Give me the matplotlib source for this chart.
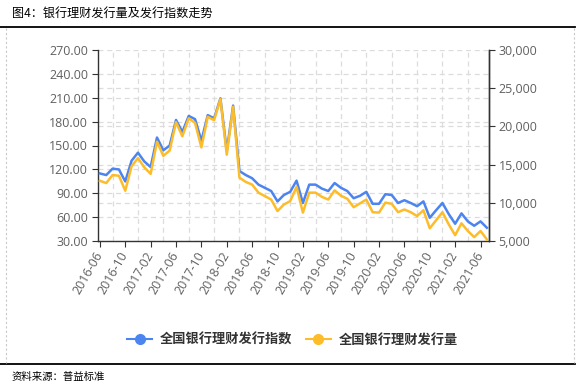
import numpy as np
import pandas as pd
import matplotlib
matplotlib.use('Agg')
import matplotlib.pyplot as plt
from matplotlib.lines import Line2D
from matplotlib.ticker import FuncFormatter, FixedLocator

plt.rcParams['font.family'] = ['Open Sans', 'Noto Sans CJK SC', 'DejaVu Sans']

# monthly data, 2016-06 .. 2021-07
months = pd.date_range('2016-06-01', periods=62, freq='MS').strftime('%Y-%m').tolist()

issue_index = [115, 113, 121, 120, 105, 131, 141, 130, 123, 160,
               144, 150, 182, 167, 187, 183, 156, 188, 184, 209,
               143, 200, 118, 113, 109, 101, 97, 93, 80, 88,
               92, 106, 78, 101, 101, 96, 93, 103, 97, 93,
               84, 87, 92, 77, 77, 89, 88, 78, 81.5, 78,
               74, 80, 59.5, 69, 78, 64, 52, 65, 55, 49.5,
               55, 47]

issue_volume = [12900, 12600, 13650, 13550, 11600, 14800, 15850, 14650, 13800, 18000,
                16150, 16850, 20550, 18700, 21050, 20450, 17250, 21250, 20800, 23550,
                16300, 22550, 13300, 12750, 12400, 11350, 10900, 10450, 8950, 9800,
                10250, 12100, 8750, 11350, 11350, 10800, 10450, 11650, 10950, 10550,
                9450, 9950, 10450, 8800, 8750, 10050, 9900, 8800, 9150, 8800,
                8300, 9050, 6700, 7750, 8800, 7200, 5800, 7350, 6350, 5550,
                6350, 5250]

left_ticks = [30, 60, 90, 120, 150, 180, 210, 240, 270]
right_ticks = [5000, 10000, 15000, 20000, 25000, 30000]

blue = '#4C84F0'
yellow = '#FDBD2A'
grid_c = '#DCDCDC'
axis_c = '#333333'
label_c = '#606060'

fig = plt.figure(figsize=(5.85, 3.88), dpi=100)
ax = fig.add_axes([0.1675, 0.378, 0.668, 0.494])
ax2 = ax.twinx()

x = np.arange(len(months))
ax.plot(x, issue_index, color=blue, lw=1.8, zorder=3)
ax2.plot(x, issue_volume, color=yellow, lw=1.8, zorder=3)

ax.set_xlim(-0.3, len(months) - 0.7)
ax.set_ylim(left_ticks[0], left_ticks[-1])
ax2.set_ylim(right_ticks[0], right_ticks[-1])

# x ticks every 4 months, grid lines offset by 2 months
ax.set_xticks(x[::4])
ax.set_xticklabels([months[i] for i in x[::4]], rotation=60, ha='right',
                   va='center', rotation_mode='anchor', fontsize=9, color=label_c)
ax.xaxis.set_minor_locator(FixedLocator(x[2::4]))
ax.grid(axis='x', which='minor', color=grid_c, ls=(0, (4, 3)), lw=0.9)
ax.tick_params(axis='x', which='minor', length=0)
ax.tick_params(axis='x', which='major', length=4, color=axis_c, pad=4)

ax.set_yticks(left_ticks)
ax.yaxis.set_major_formatter(FuncFormatter(lambda v, p: f'{v:.2f}'))
ax.grid(axis='y', which='major', color=grid_c, ls=(0, (4, 3)), lw=0.9)
ax.tick_params(axis='y', length=4, color=axis_c, labelsize=9, labelcolor=label_c, pad=3)

ax2.set_yticks(right_ticks)
ax2.yaxis.set_major_formatter(FuncFormatter(lambda v, p: f'{v:,.0f}'))
ax2.tick_params(axis='y', length=4, color=axis_c, labelsize=9, labelcolor=label_c, pad=3)
# grid of the right axis drawn under the lines
for v in right_ticks[1:-1]:
    frac = (v - right_ticks[0]) / (right_ticks[-1] - right_ticks[0])
    ax.plot([0, 1], [frac, frac], transform=ax.transAxes, color=grid_c,
            ls=(0, (4, 3)), lw=0.9, zorder=0)

ax.set_axisbelow(True)
for a in (ax, ax2):
    a.spines['top'].set_visible(False)
    for s in ('left', 'bottom', 'right'):
        a.spines[s].set_color(axis_c)
        a.spines[s].set_linewidth(1.0)
ax2.spines['left'].set_visible(False)
ax2.spines['bottom'].set_visible(False)

cjk = ['Noto Sans CJK SC', 'DejaVu Sans']
handles = [Line2D([], [], color=blue, lw=1.5, marker='o', ms=7),
           Line2D([], [], color=yellow, lw=1.5, marker='o', ms=7)]
fig.legend(handles, ['全国银行理财发行指数', '全国银行理财发行量'],
           loc='center', bbox_to_anchor=(0.5, 0.124), ncol=2, frameon=False,
           handlelength=1.9, handletextpad=0.6, columnspacing=1.0,
           prop={'family': cjk, 'size': 9.5, 'weight': 'bold'},
           labelcolor='#333333')

# page frame
W, H = 585, 388
fig.add_artist(Line2D([0, 575 / W], [1 - 27 / H] * 2, color='black', lw=1.3))
fig.add_artist(Line2D([0, 575 / W], [1 - 364 / H] * 2, color='black', lw=1.3))
for xp in (6, 574):
    fig.add_artist(Line2D([xp / W] * 2, [1 - 28 / H, 1 - 363 / H], color='#C8C8C8',
                          lw=0.8, ls=(0, (2, 2))))

fig.text(12 / W, 1 - 13 / H, '图4：银行理财发行量及发行指数走势', fontsize=8.7,
         family=cjk, ha='left', va='center', color='black')
fig.text(12 / W, 1 - 377 / H, '资料来源：普益标准', fontsize=7.5,
         family=cjk, ha='left', va='center', color='black')

fig.savefig('out.png', dpi=100)
